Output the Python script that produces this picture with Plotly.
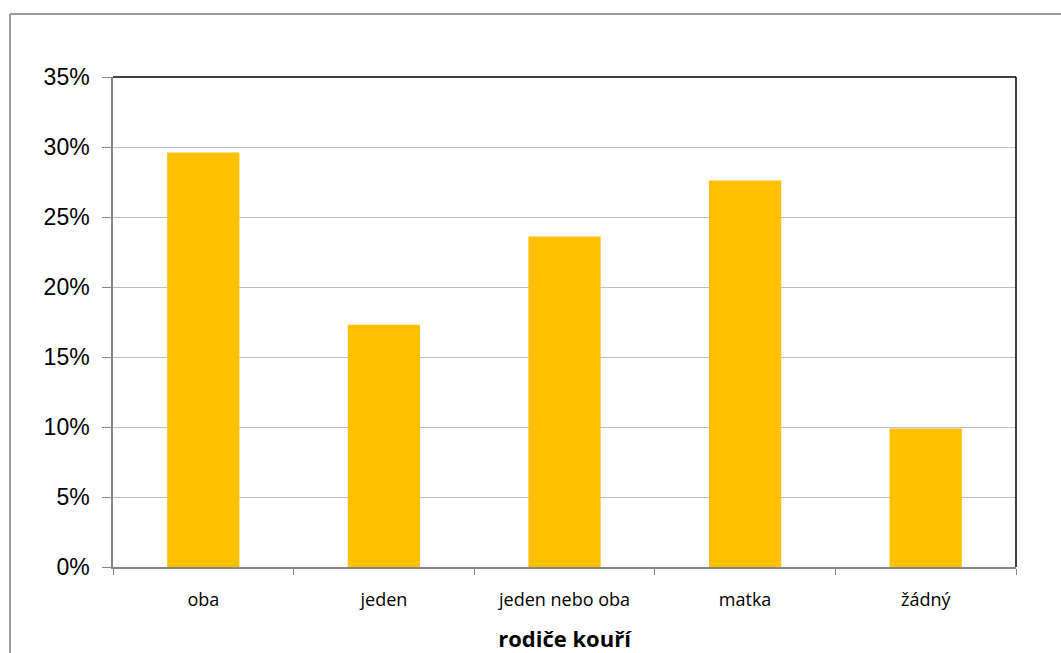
import plotly.graph_objects as go

categories = ["oba", "jeden", "jeden nebo oba", "matka", "žádný"]
shares = [0.296, 0.173, 0.236, 0.276, 0.099]
y_ticks = [0, 0.05, 0.10, 0.15, 0.20, 0.25, 0.30, 0.35]
y_tick_labels = ["0%", "5%", "10%", "15%", "20%", "25%", "30%", "35%"]

W, H = 1061, 653
L, R, T, B = 113, 45, 77, 86
pw, ph = W - L - R, H - T - B

fig = go.Figure(go.Bar(
    x=categories, y=shares,
    marker=dict(color="#FFC000", line=dict(width=0)),
    hoverinfo="skip",
))

fig.update_layout(
    width=W, height=H,
    margin=dict(l=L, r=R, t=T, b=B),
    paper_bgcolor="white", plot_bgcolor="white",
    bargap=0.6,
    showlegend=False,
    shapes=[
        # chart frame (top and left edges)
        dict(type="line", xref="paper", yref="paper",
             x0=(10 - L) / pw, x1=(W + 5 - L) / pw,
             y0=(H - B - 14) / ph, y1=(H - B - 14) / ph,
             line=dict(color="#9A9A9A", width=2)),
        dict(type="line", xref="paper", yref="paper",
             x0=(10 - L) / pw, x1=(10 - L) / pw,
             y0=(H - B - 14) / ph, y1=-(B + 5) / ph,
             line=dict(color="#9A9A9A", width=2)),
        # plot area border on top and right
        dict(type="line", xref="paper", yref="paper",
             x0=0, x1=1, y0=1, y1=1, line=dict(color="black", width=1.5)),
        dict(type="line", xref="paper", yref="paper",
             x0=1, x1=1, y0=0, y1=1, line=dict(color="black", width=1.5)),
    ],
)

fig.update_yaxes(
    range=[0, 0.35],
    tickvals=y_ticks, ticktext=y_tick_labels,
    showgrid=True, gridcolor="#BEBEBE", gridwidth=1,
    showline=True, linecolor="#868686", linewidth=1.5,
    ticks="outside", ticklen=9, tickcolor="#868686",
    ticklabelstandoff=8,
    tickfont=dict(family="Liberation Sans, Arial", size=23, color="black"),
    zeroline=False, fixedrange=True, automargin=False,
)

fig.update_xaxes(
    showline=True, linecolor="#868686", linewidth=1.5,
    ticks="outside", ticklen=6, tickcolor="#868686", tickson="boundaries",
    ticklabelstandoff=16,
    tickfont=dict(family="Open Sans", size=18, color="black"),
    title=dict(text="<b>rodiče kouří</b>",
               font=dict(family="Open Sans", size=22, color="black"),
               standoff=24),
    showgrid=False, fixedrange=True, automargin=False,
)

fig.write_html("out.html")
